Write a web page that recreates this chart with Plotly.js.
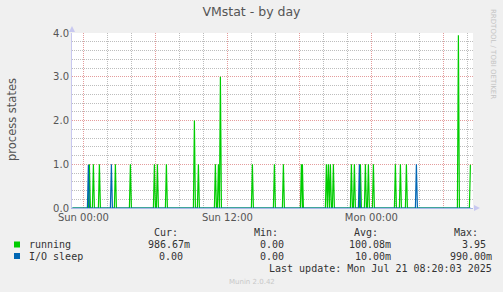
<!DOCTYPE html>
<html>
<head>
<meta charset="utf-8">
<script src="https://cdn.plot.ly/plotly-3.0.1.min.js"></script>
<style>
html,body{margin:0;padding:0;background:#f0f0f0;}
#chart{width:503px;height:292px;}
</style>
</head>
<body>
<div id="chart"></div>
<script>
// ---- data (5-minute samples that are non-zero) ----
const runningTimes = [
  '2025-07-20 00:30','2025-07-20 00:50','2025-07-20 01:20','2025-07-20 02:40','2025-07-20 03:55',
  '2025-07-20 05:55','2025-07-20 06:10','2025-07-20 06:55','2025-07-20 09:15','2025-07-20 09:35',
  '2025-07-20 11:00','2025-07-20 11:15','2025-07-20 11:25','2025-07-20 14:05','2025-07-20 15:55',
  '2025-07-20 16:40','2025-07-20 18:10','2025-07-20 18:15','2025-07-20 20:15','2025-07-20 20:25',
  '2025-07-20 20:35','2025-07-20 20:50','2025-07-20 22:20','2025-07-20 22:35','2025-07-20 23:05',
  '2025-07-20 23:30','2025-07-20 23:45','2025-07-21 00:10','2025-07-21 02:00','2025-07-21 02:25',
  '2025-07-21 02:55','2025-07-21 07:15','2025-07-21 08:15'
];
const runningValues = [
  1,1,1,1,1,
  1,1,1,2,1,
  1,1,3,1,1,
  1,1,1,1,1,
  1,1,1,1,1,
  1,1,1,1,1,
  1,3.95,0.98667
];
const ioTimes = ['2025-07-20 00:25','2025-07-20 02:20','2025-07-20 23:00','2025-07-21 03:45'];
const ioValues = [0.99, 1, 1, 1];
const seriesStart = '2025-07-19 23:05';
const seriesEnd = '2025-07-21 08:15';
const sampleMinutes = 5;

const xTickVals = ['2025-07-20 00:00','2025-07-20 06:00','2025-07-20 12:00','2025-07-20 18:00','2025-07-21 00:00','2025-07-21 06:00'];
const xTickText = ['Sun 00:00','','Sun 12:00','','Mon 00:00',''];
const xRange = ['2025-07-19 23:03','2025-07-21 08:28'];

const legendNames = ['running','I/O sleep'];
const legendColors = ['#00cc00','#0066b3'];
const statHeaders = ['Cur:','Min:','Avg:','Max:'];
const runningStats = ['986.67m','0.00','100.08m','3.95'];
const ioStats = ['0.00','0.00','10.00m','990.00m'];
const lastUpdate = 'Last update: Mon Jul 21 08:20:03 2025';

// ---- helpers ----
function toMs(s){ const [d,t]=s.split(' '); const [Y,M,D]=d.split('-').map(Number); const [h,m]=t.split(':').map(Number); return Date.UTC(Y,M-1,D,h,m); }
function fmt(ms){ const d=new Date(ms); const p=n=>String(n).padStart(2,'0'); return d.getUTCFullYear()+'-'+p(d.getUTCMonth()+1)+'-'+p(d.getUTCDate())+' '+p(d.getUTCHours())+':'+p(d.getUTCMinutes()); }
function spikes(times, vals){
  const step = sampleMinutes*60000;
  const xs=[fmt(toMs(seriesStart))], ys=[0];
  const endMs = toMs(seriesEnd);
  times.forEach((t,i)=>{
    const ms=toMs(t);
    if(ms-step>toMs(xs[xs.length-1])){ xs.push(fmt(ms-step)); ys.push(0); }
    xs.push(fmt(ms)); ys.push(vals[i]);
    if(ms<endMs){ xs.push(fmt(ms+step)); ys.push(0); }
  });
  if(toMs(xs[xs.length-1])<endMs){ xs.push(fmt(endMs)); ys.push(0); }
  return {xs, ys};
}

const r = spikes(runningTimes, runningValues);
const io = spikes(ioTimes, ioValues);

const W=503, L=72, R=473, T=33, B=208, H=292;
const px = x => (x-L)/(R-L);
const py = y => (B-y)/(B-T);

const mono = {family:'DejaVu Sans Mono', size:10, color:'#333333'};
const ann = [];
function txt(text, x, y, opts){ ann.push(Object.assign({text, xref:'paper', yref:'paper', x:px(x), y:py(y), xanchor:'left', yanchor:'middle', showarrow:false, font:mono}, opts||{})); }

const headerX=[152,252,352,452];
statHeaders.forEach((h,i)=>txt(h, headerX[i], 232.5));
const runX=[146,258,347,460];
runningStats.forEach((s,i)=>txt(s, runX[i], 244.5));
const ioX=[157,258,353,448];
ioStats.forEach((s,i)=>txt(s, ioX[i], 256));
txt(legendNames[0], 26.5, 244.5);
txt(legendNames[1], 26.5, 256);
txt(lastUpdate, 267, 268.5);
txt('Munin 2.0.42', 251.5, 281.5, {xanchor:'center', font:{family:'DejaVu Sans', size:7, color:'#c8c8c8'}});
ann.push({text:'RRDTOOL / TOBI OETIKER', xref:'paper', yref:'paper', x:px(493), y:py(54), textangle:90, showarrow:false, xanchor:'center', yanchor:'middle', font:{family:'DejaVu Sans', size:7, color:'#c4c4c4'}});
ann.push({text:'process states', xref:'paper', yref:'paper', x:px(11.5), y:py(119.5), textangle:-90, showarrow:false, xanchor:'center', yanchor:'middle', font:{family:'DejaVu Sans', size:11.5, color:'#555555'}});

const shapes = [
  {type:'rect', xref:'paper', yref:'paper', x0:px(14), x1:px(20), y0:py(247.5), y1:py(241.5), fillcolor:legendColors[0], line:{width:0}},
  {type:'rect', xref:'paper', yref:'paper', x0:px(14), x1:px(20), y0:py(259), y1:py(253), fillcolor:legendColors[1], line:{width:0}},
  // axis arrows
  {type:'path', xref:'paper', yref:'paper', path:`M ${px(69)} ${py(32)} L ${px(75)} ${py(32)} L ${px(72)} ${py(26)} Z`, fillcolor:'#c8c8f0', line:{width:0}},
  {type:'path', xref:'paper', yref:'paper', path:`M ${px(474)} ${py(205)} L ${px(474)} ${py(211)} L ${px(480)} ${py(208)} Z`, fillcolor:'#c8c8f0', line:{width:0}}
];

const traces = [
  {x:r.xs, y:r.ys, type:'scatter', mode:'lines', line:{color:legendColors[0], width:1.2}, name:legendNames[0], hoverinfo:'skip'},
  {x:io.xs, y:io.ys, type:'scatter', mode:'lines', line:{color:legendColors[1], width:1.2}, name:legendNames[1], hoverinfo:'skip'}
];

const majorGrid = '#e49c9c';
const minorGrid = '#bdbdbd';
const layout = {
  width:W, height:H,
  margin:{l:L, r:W-R, t:T, b:H-B},
  paper_bgcolor:'#f0f0f0', plot_bgcolor:'#ffffff',
  showlegend:false,
  font:{family:'DejaVu Sans', size:10, color:'#555555'},
  title:{text:'VMstat - by day', x:0.5, xref:'container', y:1-12/H, yref:'container', yanchor:'middle', font:{family:'DejaVu Sans', size:12.5, color:'#555555'}},
  xaxis:{type:'date', range:xRange, tickmode:'array', tickvals:xTickVals, ticktext:xTickText,
    showgrid:true, gridcolor:majorGrid, griddash:'1px,1px', gridwidth:1,
    minor:{dtick:2*3600000, tick0:'2025-07-20 00:00', showgrid:true, gridcolor:minorGrid, griddash:'1px,1px', gridwidth:1, ticks:''},
    ticks:'', showline:true, linecolor:'#a8b8e8', linewidth:1, zeroline:false, fixedrange:true,
    tickfont:{family:'DejaVu Sans', size:10, color:'#555555'}},
  yaxis:{range:[0,4], dtick:1, tick0:0, tickformat:'.1f',
    showgrid:true, gridcolor:majorGrid, griddash:'1px,1px', gridwidth:1,
    minor:{dtick:0.2, showgrid:true, gridcolor:minorGrid, griddash:'1px,1px', gridwidth:1, ticks:''},
    ticks:'', ticklen:0, showline:true, linecolor:'#c8c8f0', linewidth:1, zeroline:false, fixedrange:true,
    tickfont:{family:'DejaVu Sans', size:10, color:'#555555'}},
  annotations:ann,
  shapes:shapes
};

Plotly.newPlot('chart', traces, layout, {displayModeBar:false, staticPlot:true});
</script>
</body>
</html>
